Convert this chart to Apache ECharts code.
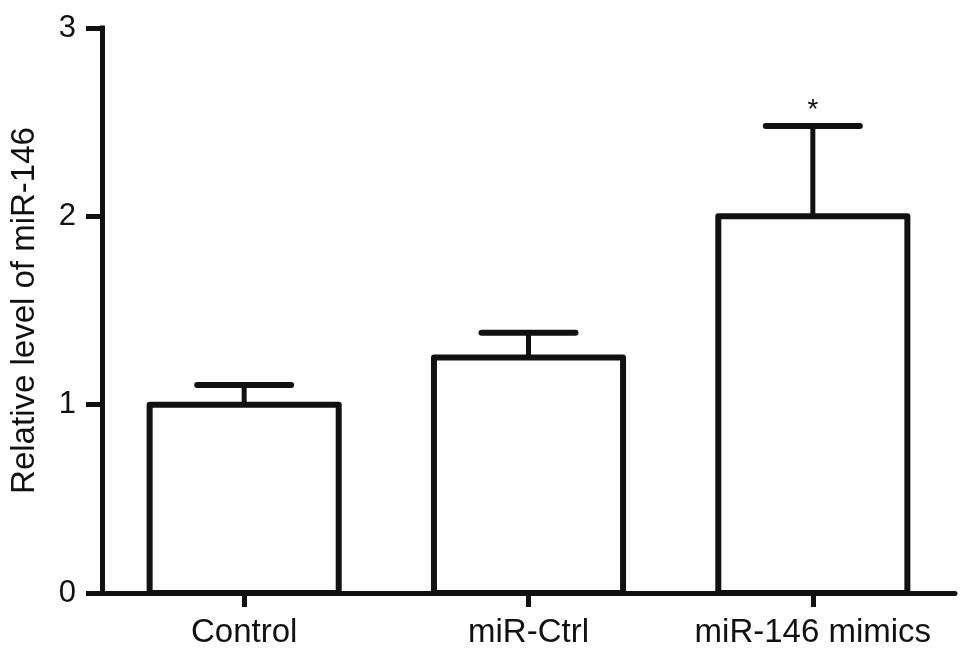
<!DOCTYPE html>
<html>
<head>
<meta charset="utf-8">
<script src="https://cdn.jsdelivr.net/npm/echarts@6/dist/echarts.min.js"></script>
<style>
html,body{margin:0;padding:0;background:#fff;}
#chart{width:969px;height:658px;}
</style>
</head>
<body>
<div id="chart"></div>
<script>
var categories = ['Control', 'miR-Ctrl', 'miR-146 mimics'];
var means = [1.0, 1.25, 2.0];
var errors = [0.105, 0.132, 0.48];
var significance = ['', '', '*'];
var yTicks = [0, 1, 2, 3];

var FONT = '"Liberation Sans", Arial, Helvetica, sans-serif';
var INK = '#111';

var chart = echarts.init(document.getElementById('chart'));

var barData = categories.map(function (c, i) { return [i, means[i]]; });
var errData = categories.map(function (c, i) { return [i, means[i], errors[i], significance[i]]; });

chart.setOption({
  animation: false,
  backgroundColor: '#fff',
  grid: { left: 102, right: 14, top: 28, bottom: 65, containLabel: false, outerBoundsMode: 'none' },
  xAxis: {
    type: 'category',
    data: categories,
    axisLine: { show: true, lineStyle: { color: INK, width: 5 } },
    axisTick: { show: true, alignWithLabel: true, length: 14, lineStyle: { color: INK, width: 5 } },
    axisLabel: { color: INK, fontSize: 33, fontFamily: FONT, margin: 23, interval: 0, hideOverlap: false },
    splitLine: { show: false }
  },
  yAxis: {
    type: 'value',
    min: yTicks[0],
    max: yTicks[yTicks.length - 1],
    interval: 1,
    name: 'Relative level of miR-146',
    nameLocation: 'middle',
    nameGap: 61,
    nameTextStyle: { color: INK, fontSize: 33, fontFamily: FONT },
    axisLine: { show: true, lineStyle: { color: INK, width: 5, cap: 'square' } },
    axisTick: { show: true, length: 16, lineStyle: { color: INK, width: 5 } },
    axisLabel: { color: INK, fontSize: 31, fontFamily: FONT, margin: 26 },
    splitLine: { show: false }
  },
  series: [
    {
      type: 'custom',
      data: barData,
      z: 2,
      renderItem: function (params, api) {
        var i = api.value(0);
        var m = api.value(1);
        var p0 = api.coord([i, 0]);
        var p1 = api.coord([i, m]);
        var w = api.size([1, 0])[0] * 0.665;
        return {
          type: 'rect',
          shape: { x: p0[0] - w / 2, y: p1[1], width: w, height: p0[1] - p1[1] },
          style: { fill: '#fff', stroke: INK, lineWidth: 6, lineJoin: 'round' }
        };
      }
    },
    {
      type: 'custom',
      data: errData,
      z: 3,
      renderItem: function (params, api) {
        var i = api.value(0);
        var m = api.value(1);
        var e = api.value(2);
        var base = api.coord([i, m]);
        var top = api.coord([i, m + e]);
        var half = 47;
        var children = [
          { type: 'line', shape: { x1: base[0], y1: base[1], x2: top[0], y2: top[1] },
            style: { stroke: INK, lineWidth: 5 } },
          { type: 'line', shape: { x1: top[0] - half, y1: top[1], x2: top[0] + half, y2: top[1] },
            style: { stroke: INK, lineWidth: 6, lineCap: 'round' } }
        ];
        var sig = errData[params.dataIndex][3];
        if (sig) {
          children.push({ type: 'text', x: top[0], y: top[1] - 2,
            style: { text: sig, fill: INK, fontSize: 28, fontFamily: FONT, align: 'center', verticalAlign: 'bottom' } });
        }
        return { type: 'group', children: children };
      }
    }
  ]
});
</script>
</body>
</html>
